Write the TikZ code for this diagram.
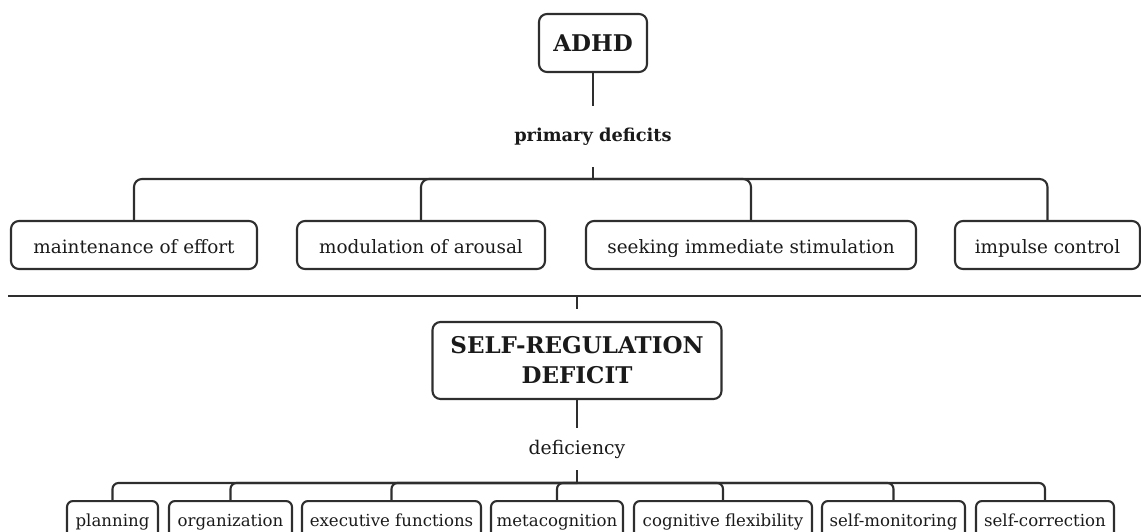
\documentclass[tikz,border=0pt]{standalone}
\usepackage{fontspec}
\setmainfont{DejaVu Serif}
\definecolor{linec}{HTML}{2E2E2E}
\definecolor{textc}{HTML}{1A1A1A}
\tikzset{
  box/.style={draw=linec, rounded corners=8pt, line width=2.1pt, inner xsep=4pt, inner ysep=0pt,
    minimum height=48pt, text height=20pt, text depth=4pt, text=textc,
    font=\fontsize{18.4}{21}\selectfont},
  leafbox/.style={box, rounded corners=6pt, minimum height=40pt, anchor=north,
    text height=14pt, text depth=4pt, font=\fontsize{16.6}{19}\selectfont},
  headbox/.style={box, text height=, text depth=, font=\bfseries\fontsize{23}{30}\selectfont, align=center},
  label/.style={inner sep=0pt, text=textc},
  link/.style={draw=linec, line width=2.1pt, rounded corners=8pt},
  leaflink/.style={link, rounded corners=6pt},
}
\begin{document}
\begin{tikzpicture}[x=1pt, y=-1pt]
\useasboundingbox (0,0) rectangle (1141,531);

% ---- upper tree: ADHD and its primary deficits ----
\node[headbox, minimum width=108pt, minimum height=58pt] (adhd) at (593,43) {ADHD};
\node[label, font=\bfseries\fontsize{17.8}{20}\selectfont, minimum height=61pt] (pd) at (593,136.5) {primary deficits};
\coordinate (hubA) at (593,179);

\node[box, minimum width=246pt] (m1) at (134,245) {maintenance of effort};
\node[box, minimum width=248pt] (m2) at (421,245) {modulation of arousal};
\node[box, minimum width=330pt] (m3) at (751,245) {seeking immediate stimulation};
\node[box, minimum width=185pt] (m4) at (1047.5,245) {impulse control};

\draw[link] (adhd) -- (pd);
\draw[link] (pd) -- (hubA);
\foreach \n in {m1,m2,m3,m4} \draw[link] (hubA) -| (\n.north);

% ---- separating rule ----
\coordinate (ruleL) at (8,296);
\coordinate (ruleR) at (1141,296);
\coordinate (ruleM) at (577,296);
\coordinate (ruleS) at (577,309);
\draw[link] (ruleL) -- (ruleR);
\draw[link] (ruleM) -- (ruleS);

% ---- lower tree: self-regulation deficit ----
\node[headbox, minimum width=289pt, minimum height=77pt] (sr) at (577,360.5) {SELF-REGULATION\\DEFICIT};
\node[label, font=\fontsize{18.8}{21}\selectfont, minimum height=42pt] (def) at (577,449) {deficiency};
\coordinate (hubB) at (577,483);

\node[leafbox, minimum width=91pt]  (b1) at (112.5,500) {planning};
\node[leafbox, minimum width=123pt] (b2) at (230.5,500) {organization};
\node[leafbox, minimum width=179pt] (b3) at (391.5,500) {executive functions};
\node[leafbox, minimum width=132pt] (b4) at (557,500)   {metacognition};
\node[leafbox, minimum width=178pt] (b5) at (723,500)   {cognitive flexibility};
\node[leafbox, minimum width=143pt] (b6) at (893.5,500) {self-monitoring};
\node[leafbox, minimum width=138pt] (b7) at (1045,500)  {self-correction};

\draw[link] (sr) -- (def);
\draw[link] (def) -- (hubB);
\foreach \n in {b1,b2,b3,b4,b5,b6,b7} \draw[leaflink] (hubB) -| (\n.north);
\end{tikzpicture}
\end{document}
